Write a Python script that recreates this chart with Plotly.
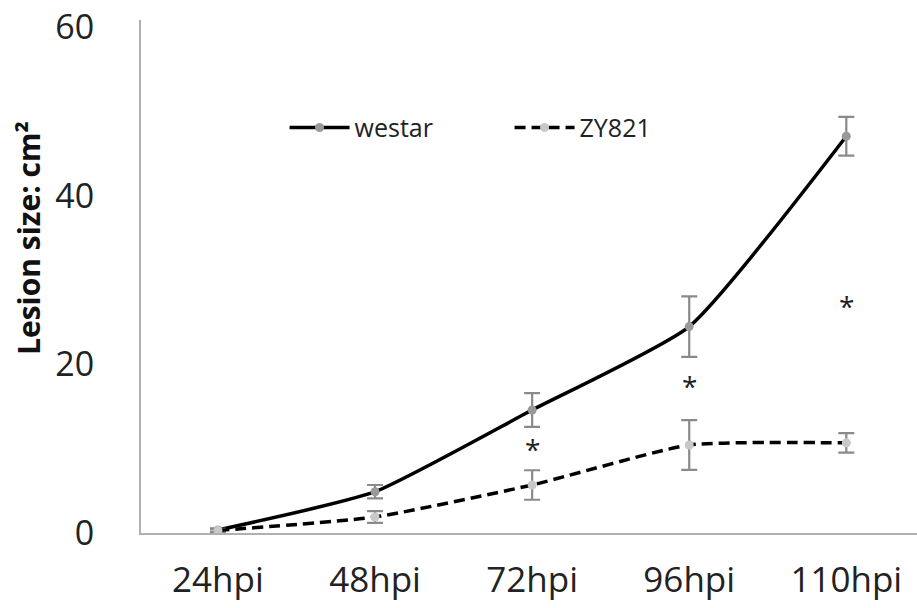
import plotly.graph_objects as go

categories = ["24hpi", "48hpi", "72hpi", "96hpi", "110hpi"]
westar = [0.36, 4.9, 14.6, 24.5, 47.1]
westar_err = [0.2, 0.8, 2.0, 3.6, 2.3]
zy821 = [0.3, 1.9, 5.7, 10.45, 10.7]
zy821_err = [0.2, 0.7, 1.75, 2.95, 1.15]
star_cats = ["72hpi", "96hpi", "110hpi"]
star_y = [10.0, 17.5, 26.9]
y_ticks = [0, 20, 40, 60]

FONT = "Open Sans"
x_idx = list(range(len(categories)))

fig = go.Figure()
fig.add_trace(go.Scatter(
    x=x_idx, y=westar, name="westar", mode="lines+markers",
    line=dict(color="black", width=3.5, shape="spline", smoothing=0.5),
    marker=dict(color="#999999", size=9),
    error_y=dict(type="data", array=westar_err, color="#8a8a8a", thickness=2.2, width=8),
))
fig.add_trace(go.Scatter(
    x=x_idx, y=zy821, name="ZY821", mode="lines+markers",
    line=dict(color="black", width=3.5, dash="11px,6px", shape="spline", smoothing=0.5),
    marker=dict(color="#c8c8c8", size=9),
    error_y=dict(type="data", array=zy821_err, color="#8a8a8a", thickness=2.2, width=8),
))

for c, yv in zip(star_cats, star_y):
    fig.add_annotation(x=categories.index(c), y=yv, xref="x", yref="y", text="*",
                       showarrow=False, font=dict(family=FONT, size=28, color="#222"))

fig.add_annotation(xref="paper", yref="paper", x=-0.1456, y=0.575, xanchor="center", yanchor="middle",
                   text="<b>Lesion size: cm²</b>",
                   textangle=-90, showarrow=False, font=dict(family=FONT, size=30, color="#111"))

fig.update_layout(
    width=917, height=608,
    margin=dict(l=141, r=0, t=20, b=75, autoexpand=False),
    paper_bgcolor="white", plot_bgcolor="white",
    showlegend=True,
    legend=dict(orientation="h", x=0.185, y=0.79, xanchor="left", yanchor="middle",
                font=dict(family=FONT, size=25, color="#222"), itemwidth=60,
                entrywidth=150, entrywidthmode="pixels", bgcolor="rgba(0,0,0,0)"),
    xaxis=dict(tickmode="array", tickvals=x_idx, ticktext=categories, range=[-0.49, 4.45],
               showline=True, linecolor="#b0b0b0", linewidth=2, showgrid=False, zeroline=False,
               automargin=False, ticklabeloverflow="allow",
               ticks="", tickfont=dict(family=FONT, size=35, color="#222"), ticklabelstandoff=15),
    yaxis=dict(range=[0, 60.9], tickvals=y_ticks, showline=True, linecolor="#b0b0b0", linewidth=2,
               showgrid=False, zeroline=False, ticks="", automargin=False, ticklabeloverflow="allow",
               tickfont=dict(family=FONT, size=34, color="#222"), ticklabelstandoff=38),
)

fig.write_html("out.html", config={"displayModeBar": False},
               post_script="document.body.style.margin='0px';document.body.style.overflow='hidden';")
